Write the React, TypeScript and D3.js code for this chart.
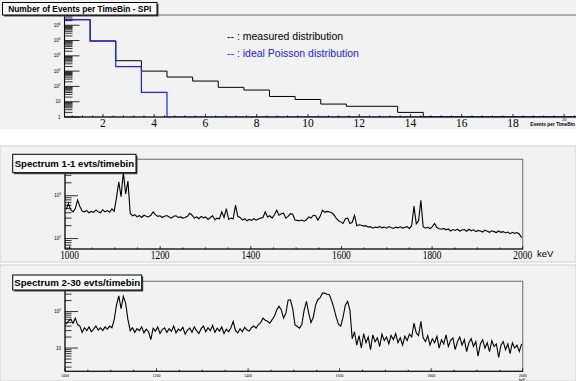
import { useEffect, useRef } from "react";
import * as d3 from "d3";

const W = 576;
const H = 381;

// top pad: number of events per time bin
const timeBins = d3.range(1, 21);
const measured = [2300000, 95000, 4800, 1000, 410, 224, 87, 58, 22, 14, 7, 5, 5, 2, 0, 0, 0, 0, 0, 0];
const poisson = [2350000, 90000, 1950, 41, 0, 0, 0, 0, 0, 0, 0, 0, 0, 0, 0, 0, 0, 0, 0, 0];
const timeTicks = [2, 4, 6, 8, 10, 12, 14, 16, 18];

// spectrum 1-1 evts/timebin (200 bins from 990 to 2000 keV)
const spec1 = [
  480, 650, 470, 420, 500, 790, 560, 440, 420, 450, 400, 430, 410, 460, 420, 400, 470, 420, 450, 410,
  490, 430, 900, 2100, 950, 3500, 1100, 2200, 390, 340, 360, 320, 345, 310, 350, 330, 320, 350, 420, 360,
  330, 340, 310, 330, 345, 320, 300, 330, 340, 310, 320, 300, 310, 330, 390, 350, 300, 320, 290, 330,
  305, 320, 280, 310, 340, 275, 300, 290, 420, 310, 500, 280, 300, 290, 600, 330, 310, 270, 290, 260,
  280, 265, 290, 270, 285, 300, 310, 420, 320, 340, 300, 360, 460, 350, 380, 390, 300, 330, 380, 370,
  270, 265, 260, 270, 255, 275, 320, 300, 350, 340, 270, 330, 460, 410, 430, 420, 400, 360, 300, 260,
  245, 225, 290, 300, 225, 240, 350, 200, 210, 205, 195, 200, 185, 190, 175, 185, 180, 190, 178, 185,
  175, 190, 180, 172, 185, 178, 188, 176, 184, 190, 172, 200, 570, 220, 260, 780, 190, 175, 185, 170,
  190, 225, 180, 170, 165, 172, 160, 168, 150, 162, 155, 165, 150, 158, 162, 148, 165, 152, 160, 145,
  155, 150, 142, 158, 148, 140, 152, 145, 138, 150, 140, 145, 135, 142, 130, 140, 132, 138, 128, 105,
];
const spec1Range = [990, 2000];

// spectrum 2-30 evts/timebin (200 bins from 1000 to 2000 keV)
const spec2 = [
  45, 55, 62, 48, 66, 44, 40, 27, 36, 30, 38, 28, 33, 40, 31, 36, 30, 38, 33, 40,
  36, 60, 150, 270, 120, 260, 170, 60, 30, 36, 27, 34, 30, 38, 26, 33, 28, 17, 35, 29,
  38, 25, 32, 36, 27, 34, 29, 40, 26, 33, 30, 37, 24, 31, 35, 27, 38, 30, 25, 34,
  40, 28, 36, 30, 42, 27, 35, 29, 38, 25, 33, 28, 36, 54, 30, 26, 34, 28, 37, 31,
  29, 36, 40, 35, 44, 50, 66, 58, 54, 48, 60, 74, 110, 140, 112, 66, 90, 205, 210, 120,
  43, 39, 35, 45, 110, 190, 90, 50, 70, 150, 215, 240, 320, 320, 300, 290, 200, 125, 70, 45,
  40, 70, 150, 190, 110, 18, 28, 12, 22, 10, 25, 14, 20, 9, 23, 15, 19, 11, 24, 16,
  20, 13, 22, 17, 25, 14, 19, 12, 21, 16, 24, 20, 48, 26, 22, 54, 19, 15, 22, 12,
  18, 14, 21, 10, 17, 13, 23, 11, 16, 19, 9, 15, 20, 12, 17, 8, 14, 18, 11, 15,
  6, 13, 17, 10, 14, 8, 16, 11, 13, 5.5, 12, 15, 9, 13, 7, 14, 10, 12, 8, 13,
];
const spec2Range = [1000, 2000];
const keVTicks = [1000, 1200, 1400, 1600, 1800, 2000];

const PAD = "#f2f2f2";
const BLUE = "#2020f0";

type Sel = d3.Selection<SVGGElement, unknown, null, undefined>;

function logLabel(g: Sel, x: number, y: number, v: number, size: number) {
  const e = Math.round(Math.log10(v));
  const t = g.append("text")
    .attr("x", x).attr("y", y + size * 0.35)
    .attr("text-anchor", "end")
    .attr("font-family", "Liberation Sans, Arial, sans-serif")
    .attr("font-size", size)
    .attr("fill", "#000");
  if (e === 0) t.text("1");
  else if (e === 1) t.text("10");
  else {
    t.append("tspan").text("10");
    t.append("tspan").attr("dy", -size * 0.45).attr("font-size", size * 0.7).text(String(e));
  }
}

function logAxis(g: Sel, y: d3.ScaleLogarithmic<number, number>, x0: number, major: number, minor: number, labelSize: number) {
  const [lo, hi] = y.domain();
  const d0 = Math.floor(Math.log10(lo));
  const d1 = Math.ceil(Math.log10(hi));
  for (let d = d0; d <= d1; d++) {
    for (let k = 1; k <= 9; k++) {
      const v = k * Math.pow(10, d);
      if (v < lo * 0.999 || v > hi) continue;
      const len = k === 1 ? major : minor;
      g.append("line")
        .attr("x1", x0).attr("x2", x0 + len)
        .attr("y1", y(v)).attr("y2", y(v))
        .attr("stroke", "#000").attr("stroke-width", 0.8);
      if (k === 1) logLabel(g, x0 - 4, y(v), v, labelSize);
    }
  }
}

function stepPath(edges: number[], values: number[], x: (v: number) => number, y: (v: number) => number, ymin: number) {
  const pts: [number, number][] = values.map((v, i) => [edges[i], Math.max(v, ymin)]);
  pts.push([edges[values.length], Math.max(values[values.length - 1], ymin)]);
  return d3.line<[number, number]>()
    .x((d) => x(d[0]))
    .y((d) => y(d[1]))
    .curve(d3.curveStepAfter)(pts);
}

function titleBox(g: Sel, x: number, y: number, w: number, h: number, text: string, size: number) {
  g.append("rect").attr("x", x + 1.5).attr("y", y + 1.5).attr("width", w).attr("height", h).attr("fill", "#444");
  g.append("rect").attr("x", x).attr("y", y).attr("width", w).attr("height", h)
    .attr("fill", "#fafafa").attr("stroke", "#000").attr("stroke-width", 1);
  g.append("text")
    .attr("x", x + w / 2).attr("y", y + h / 2 + size * 0.36)
    .attr("text-anchor", "middle")
    .attr("font-family", "Liberation Sans, Arial, sans-serif")
    .attr("font-weight", "bold")
    .attr("font-size", size)
    .text(text);
}

function frame(g: Sel, x0: number, x1: number, y0: number, y1: number, id: string) {
  g.append("rect").attr("x", x0).attr("y", y0).attr("width", x1 - x0).attr("height", y1 - y0)
    .attr("fill", PAD).attr("stroke", "#808080").attr("stroke-width", 1.2);
  g.append("clipPath").attr("id", id)
    .append("rect").attr("x", x0).attr("y", y0).attr("width", x1 - x0).attr("height", y1 - y0);
}

function xTicks(g: Sel, x: d3.ScaleLinear<number, number>, yb: number, step: number, major: number) {
  const [lo, hi] = x.domain();
  const start = Math.ceil(lo / step - 1e-9) * step;
  for (let v = start; v <= hi + 1e-9; v += step) {
    const isMajor = Math.abs(v / major - Math.round(v / major)) < 1e-6;
    g.append("line").attr("x1", x(v)).attr("x2", x(v))
      .attr("y1", yb).attr("y2", yb - (isMajor ? 3 : 1.6))
      .attr("stroke", "#000").attr("stroke-width", 0.8);
  }
}

const App = () => {
  const ref = useRef<SVGSVGElement>(null);

  useEffect(() => {
    const svg = d3.select(ref.current);
    svg.selectAll("*").remove();
    const root = svg.append("g") as unknown as Sel;

    root.append("rect").attr("width", W).attr("height", H).attr("fill", "#fff");

    // ---------- top pad ----------
    const p1 = root.append("g");
    p1.append("rect").attr("x", 0).attr("y", 0).attr("width", W).attr("height", 129).attr("fill", PAD);
    const x1 = d3.scaleLinear().domain([0.5, 20.5]).range([64.5, 577]);
    const y1 = d3.scaleLog().domain([1, Math.pow(10, 6.67)]).range([117, 15]);
    frame(p1, 64.5, 577, 15, 117, "clip1");
    const edges1 = timeBins.map((b) => b - 0.5).concat([timeBins[timeBins.length - 1] + 0.5]);
    const hist = p1.append("g").attr("clip-path", "url(#clip1)");
    hist.append("path").attr("d", stepPath(edges1, measured, x1, y1, 1) as string)
      .attr("fill", "none").attr("stroke", "#000").attr("stroke-width", 1);
    hist.append("path").attr("d", stepPath(edges1, poisson, x1, y1, 1) as string)
      .attr("fill", "none").attr("stroke", BLUE).attr("stroke-width", 1.2);
    p1.append("line").attr("x1", 64.5).attr("x2", 577).attr("y1", 117).attr("y2", 117).attr("stroke", "#000");
    p1.append("line").attr("x1", 64.5).attr("x2", 64.5).attr("y1", 15).attr("y2", 117).attr("stroke", "#000");
    xTicks(p1, x1, 117, 0.4, 2);
    logAxis(p1, y1, 64.5, 15, 8, 4.5);
    timeTicks.forEach((t) => {
      p1.append("text").attr("x", x1(t)).attr("y", 126.5)
        .attr("text-anchor", "middle")
        .attr("font-family", "Liberation Serif, Times New Roman, serif")
        .attr("font-size", 11.5).text(String(t));
    });
    p1.append("text").attr("x", x1(20)).attr("y", 120.5).attr("text-anchor", "middle")
      .attr("font-family", "Liberation Serif, serif").attr("font-size", 4.5).text("20");
    p1.append("text").attr("x", 575).attr("y", 126).attr("text-anchor", "end")
      .attr("font-family", "Liberation Sans, Arial, sans-serif").attr("font-weight", "bold")
      .attr("font-size", 4.8).text("Events per TimeBin");
    p1.append("text").attr("x", 227).attr("y", 40)
      .attr("font-family", "Liberation Sans, Arial, sans-serif").attr("font-size", 10.5)
      .attr("fill", "#000").text("-- : measured distribution");
    p1.append("text").attr("x", 227).attr("y", 57)
      .attr("font-family", "Liberation Sans, Arial, sans-serif").attr("font-size", 10.5)
      .attr("fill", BLUE).text("-- : ideal Poisson distribution");
    titleBox(p1, 2.5, 2.5, 154.5, 12.5, "Number of Events per TimeBin - SPI", 8.4);

    // ---------- spectrum pads ----------
    const spectrum = (
      data: number[], range: number[], top: number, bottom: number, padTop: number, padH: number,
      yDom: number[], labelSize: number, labelY: number, labelScale: number, big: boolean,
      title: string, box: number[], titleSize: number, id: string,
    ) => {
      const p = root.append("g");
      p.append("rect").attr("x", 0).attr("y", padTop).attr("width", W).attr("height", padH)
        .attr("fill", PAD).attr("stroke", "#d0d0d0").attr("stroke-width", 1);
      const x = d3.scaleLinear().domain(range).range([65, 522.7]);
      const y = d3.scaleLog().domain(yDom).range([bottom, top]);
      frame(p, 65, 522.7, top, bottom, id);
      const bw = (range[1] - range[0]) / data.length;
      const line = d3.line<number>()
        .x((_, i) => x(range[0] + (i + 0.5) * bw))
        .y((d) => y(Math.max(d, yDom[0])));
      p.append("g").attr("clip-path", `url(#${id})`)
        .append("path").attr("d", line(data) as string)
        .attr("fill", "none").attr("stroke", "#000").attr("stroke-width", 1.1)
        .attr("stroke-linejoin", "miter");
      p.append("line").attr("x1", 65).attr("x2", 522.7).attr("y1", bottom).attr("y2", bottom).attr("stroke", "#000");
      p.append("line").attr("x1", 65).attr("x2", 65).attr("y1", top).attr("y2", bottom).attr("stroke", "#000");
      xTicks(p, x, bottom, 50, 200);
      logAxis(p, y, 65, 13, 6.5, 4.5);
      keVTicks.forEach((t) => {
        p.append("text")
          .attr("transform", `translate(${x(t)},${labelY}) scale(${labelScale},1)`)
          .attr("text-anchor", "middle")
          .attr("font-family", "Liberation Serif, Times New Roman, serif")
          .attr("font-size", labelSize).text(String(t));
      });
      if (big) {
        p.append("text").attr("x", 537).attr("y", labelY - 1.5)
          .attr("font-family", "Liberation Sans, Arial, sans-serif").attr("font-size", 9.5).text("keV");
      } else {
        p.append("text").attr("x", 522).attr("y", labelY + 4).attr("text-anchor", "middle")
          .attr("font-family", "Liberation Sans, Arial, sans-serif").attr("font-size", 3.6).text("keV");
      }
      titleBox(p, box[0], box[1], box[2], box[3], title, titleSize);
    };

    spectrum(spec1, spec1Range, 159.3, 249, 146, 116, [Math.pow(10, 1.756), Math.pow(10, 3.85)],
      12, 258.5, 0.78, true, "Spectrum 1-1 evts/timebin", [12.7, 154.3, 123.3, 18.4], 9.6, "clip2");
    spectrum(spec2, spec2Range, 281.3, 371.3, 265, 116, [Math.pow(10, 0.362), Math.pow(10, 2.83)],
      4, 376.5, 1, false, "Spectrum 2-30 evts/timebin", [12.7, 275, 129, 15], 9.7, "clip3");
  }, []);

  return (
    <svg ref={ref} width={W} height={H} viewBox={`0 0 ${W} ${H}`}
      style={{ position: "absolute", left: 0, top: 0, display: "block" }} />
  );
};

export default App;
